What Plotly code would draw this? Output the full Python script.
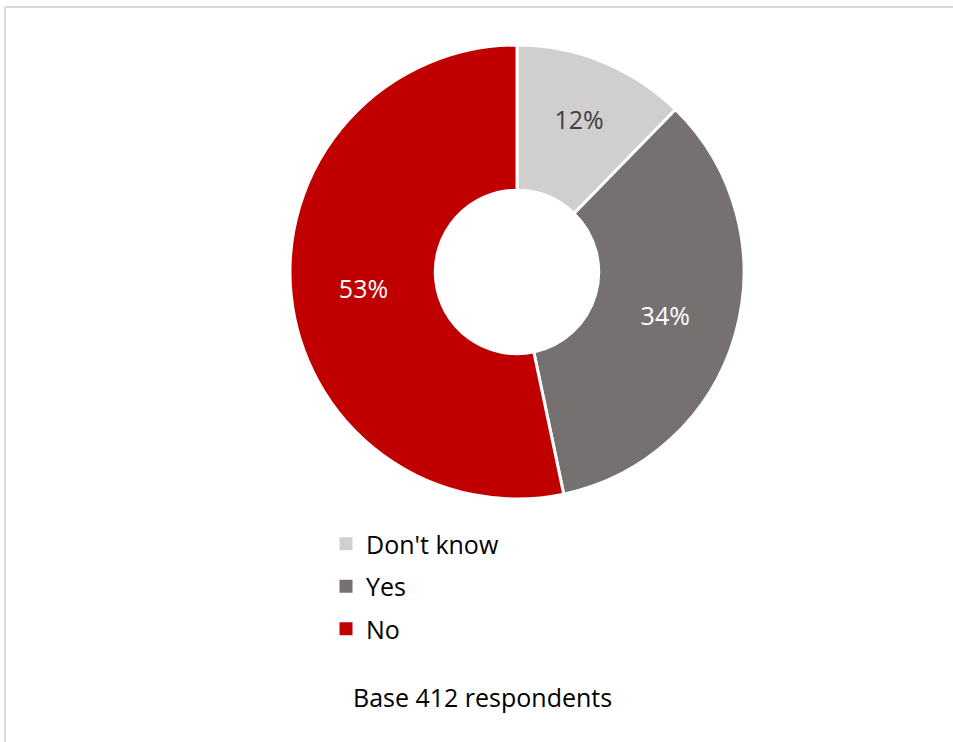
import plotly.graph_objects as go

labels = ["Don't know", "Yes", "No"]
values = [12.3, 34.4, 53.3]
text_labels = ["12%", "34%", "53%"]
colors = ["#D0CECE", "#767171", "#C00000"]
text_colors = ["#404040", "#FFFFFF", "#FFFFFF"]
base_note = "Base 412 respondents"

W, H = 953, 742
cx, cy, R = 517, 272, 227
FONT = "Open Sans"

fig = go.Figure()
fig.add_trace(go.Pie(
    labels=labels, values=values, text=text_labels,
    textinfo="text", textposition="inside",
    insidetextfont=dict(color=text_colors, size=25, family=FONT),
    hole=0.36, sort=False, direction="clockwise", rotation=0,
    marker=dict(colors=colors, line=dict(color="white", width=3)),
    domain=dict(x=[(cx - R) / W, (cx + R) / W], y=[1 - (cy + R) / H, 1 - (cy - R) / H]),
    showlegend=False, hoverinfo="label+percent",
))

# legend entries (one per category, grouped so spacing can be controlled)
for lab, col in zip(labels, colors):
    fig.add_trace(go.Scatter(
        x=[None], y=[None], mode="markers", name=lab, legendgroup=lab,
        marker=dict(symbol="square", size=13, color=col), showlegend=True,
    ))

fig.update_layout(
    width=W, height=H,
    margin=dict(l=0, r=0, t=0, b=0),
    paper_bgcolor="white", plot_bgcolor="white",
    font=dict(family=FONT, color="#000000"),
    xaxis=dict(visible=False), yaxis=dict(visible=False),
    legend=dict(x=326 / W, y=1 - 521 / H, xanchor="left", yanchor="top",
                font=dict(size=25, color="#000000", family=FONT),
                tracegroupgap=7, itemwidth=30, bgcolor="rgba(0,0,0,0)",
                traceorder="grouped"),
    annotations=[dict(text=base_note, x=482 / W, y=1 - 697 / H,
                      xref="paper", yref="paper", showarrow=False,
                      xanchor="center", yanchor="middle",
                      font=dict(size=25, color="#000000", family=FONT))],
    shapes=[
        dict(type="line", xref="paper", yref="paper", x0=5 / W, x1=1, y0=1 - 7 / H, y1=1 - 7 / H,
             line=dict(color="#D9D9D9", width=2)),
        dict(type="line", xref="paper", yref="paper", x0=5 / W, x1=5 / W, y0=0, y1=1 - 7 / H,
             line=dict(color="#D9D9D9", width=2)),
    ],
)

fig.write_html("out.html", config={"displayModeBar": False},
               post_script="document.body.style.margin='0px';")
